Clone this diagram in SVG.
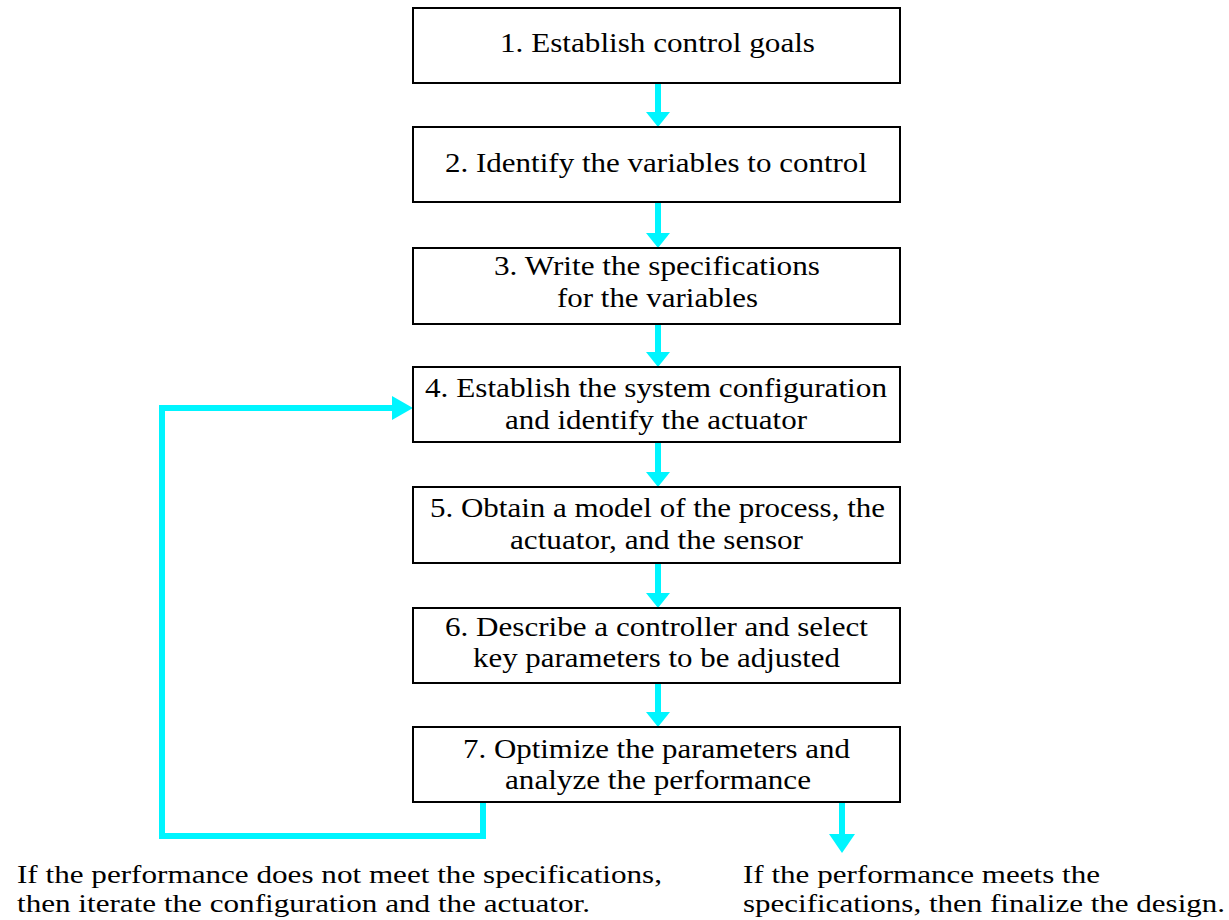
<svg xmlns="http://www.w3.org/2000/svg" width="1229" height="920" viewBox="0 0 1229 920">
<style>
.box{fill:#fff;stroke:#000;stroke-width:2}
.t{font-family:"Liberation Serif","Times New Roman",serif;font-size:27px;fill:#000}
.n{font-family:"Liberation Serif","Times New Roman",serif;font-size:26px;fill:#000}
.c{fill:none;stroke:#00F5FF;stroke-width:6}
.h{fill:#00F5FF}
</style>
<rect width="1229" height="920" fill="#fff"/>
<g id="connectors">
<line class="c" x1="658" y1="83" x2="658" y2="114"/><polygon class="h" points="646,112 670,112 658,127"/>
<line class="c" x1="658" y1="202" x2="658" y2="235"/><polygon class="h" points="646,233 670,233 658,248"/>
<line class="c" x1="658" y1="324" x2="658" y2="354"/><polygon class="h" points="646,352 670,352 658,367"/>
<line class="c" x1="658" y1="442" x2="658" y2="474"/><polygon class="h" points="646,472 670,472 658,487"/>
<line class="c" x1="658" y1="563" x2="658" y2="595"/><polygon class="h" points="646,593 670,593 658,608"/>
<line class="c" x1="658" y1="683" x2="658" y2="714"/><polygon class="h" points="646,712 670,712 658,727"/>
<polyline class="c" points="483,802 483,836 162,836 162,408 394,408"/><polygon class="h" points="392,396 392,420 413,408"/>
<line class="c" x1="842" y1="802" x2="842" y2="836"/><polygon class="h" points="829,834 855,834 842,853"/>
</g>
<g id="n1"><rect class="box" x="413" y="8" width="487" height="75"/><text class="t" x="500" y="52" textLength="315" lengthAdjust="spacingAndGlyphs">1. Establish control goals</text></g>
<g id="n2"><rect class="box" x="413" y="127" width="487" height="75"/><text class="t" x="445" y="172" textLength="422" lengthAdjust="spacingAndGlyphs">2. Identify the variables to control</text></g>
<g id="n3"><rect class="box" x="413" y="248" width="487" height="76"/><text class="t" x="494" y="275" textLength="326" lengthAdjust="spacingAndGlyphs">3. Write the specifications</text><text class="t" x="557" y="307" textLength="201" lengthAdjust="spacingAndGlyphs">for the variables</text></g>
<g id="n4"><rect class="box" x="413" y="367" width="487" height="75"/><text class="t" x="425" y="397" textLength="462" lengthAdjust="spacingAndGlyphs">4. Establish the system configuration</text><text class="t" x="505" y="429" textLength="302" lengthAdjust="spacingAndGlyphs">and identify the actuator</text></g>
<g id="n5"><rect class="box" x="413" y="487" width="487" height="76"/><text class="t" x="430" y="517" textLength="455" lengthAdjust="spacingAndGlyphs">5. Obtain a model of the process, the</text><text class="t" x="510" y="549" textLength="293" lengthAdjust="spacingAndGlyphs">actuator, and the sensor</text></g>
<g id="n6"><rect class="box" x="413" y="608" width="487" height="75"/><text class="t" x="445" y="636" textLength="423" lengthAdjust="spacingAndGlyphs">6. Describe a controller and select</text><text class="t" x="473" y="667" textLength="367" lengthAdjust="spacingAndGlyphs">key parameters to be adjusted</text></g>
<g id="n7"><rect class="box" x="413" y="727" width="487" height="75"/><text class="t" x="463" y="758" textLength="387" lengthAdjust="spacingAndGlyphs">7. Optimize the parameters and</text><text class="t" x="505" y="789" textLength="306" lengthAdjust="spacingAndGlyphs">analyze the performance</text></g>
<g id="notes">
<text class="n" x="17" y="883" textLength="645" lengthAdjust="spacingAndGlyphs">If the performance does not meet the specifications,</text>
<text class="n" x="17" y="912" textLength="573" lengthAdjust="spacingAndGlyphs">then iterate the configuration and the actuator.</text>
<text class="n" x="743" y="883" textLength="357" lengthAdjust="spacingAndGlyphs">If the performance meets the</text>
<text class="n" x="743" y="912" textLength="482" lengthAdjust="spacingAndGlyphs">specifications, then finalize the design.</text>
</g>
</svg>
